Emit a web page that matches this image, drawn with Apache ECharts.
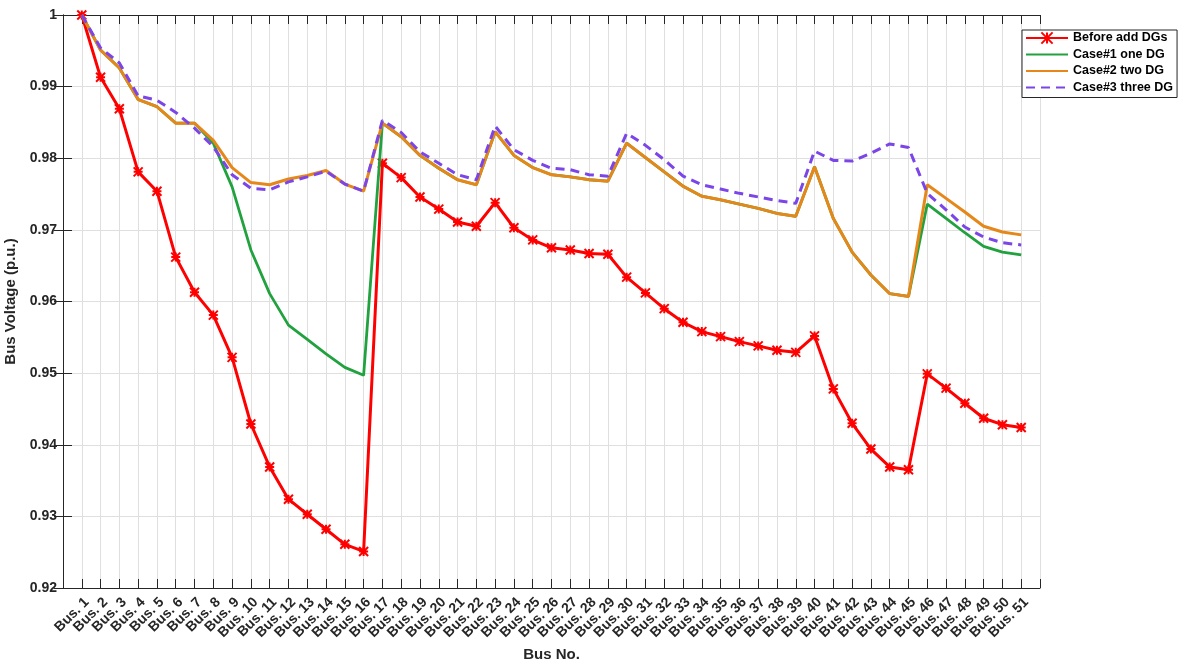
<!DOCTYPE html>
<html>
<head>
<meta charset="utf-8">
<script src="https://cdn.jsdelivr.net/npm/echarts@6/dist/echarts.min.js"></script>
<style>
  html, body { margin: 0; padding: 0; background: #ffffff; }
  #chart { width: 1182px; height: 659px; }
</style>
</head>
<body>
<div id="chart"></div>
<script>
// Bus numbers along the feeder
const busNo = [1, 2, 3, 4, 5, 6, 7, 8, 9, 10, 11, 12, 13, 14, 15, 16, 17, 18, 19, 20,
  21, 22, 23, 24, 25, 26, 27, 28, 29, 30, 31, 32, 33, 34, 35, 36, 37, 38, 39, 40,
  41, 42, 43, 44, 45, 46, 47, 48, 49, 50, 51];

// Bus voltage magnitudes (p.u.)
const beforeDG = [1.0000, 0.9913, 0.9869, 0.9781, 0.9754, 0.9662, 0.9613, 0.9581, 0.9522, 0.9429,
  0.9369, 0.9324, 0.9303, 0.9282, 0.9261, 0.9251, 0.9793, 0.9773, 0.9746, 0.9729,
  0.9711, 0.9705, 0.9738, 0.9703, 0.9686, 0.9675, 0.9672, 0.9667, 0.9666, 0.9634,
  0.9612, 0.9590, 0.9571, 0.9558, 0.9551, 0.9544, 0.9538, 0.9532, 0.9529, 0.9552,
  0.9478, 0.9430, 0.9394, 0.9369, 0.9365, 0.9499, 0.9479, 0.9458, 0.9437, 0.9428, 0.9424];

const case1OneDG = [1.0000, 0.9951, 0.9926, 0.9882, 0.9872, 0.9849, 0.9849, 0.9821, 0.9760, 0.9672,
  0.9611, 0.9567, 0.9547, 0.9527, 0.9508, 0.9497, 0.9849, 0.9830, 0.9804, 0.9786,
  0.9770, 0.9763, 0.9837, 0.9804, 0.9787, 0.9777, 0.9774, 0.9770, 0.9768, 0.9821,
  0.9801, 0.9781, 0.9761, 0.9747, 0.9742, 0.9736, 0.9730, 0.9723, 0.9719, 0.9788,
  0.9716, 0.9669, 0.9637, 0.9611, 0.9607, 0.9736, 0.9716, 0.9696, 0.9677, 0.9669, 0.9665];

const case2TwoDG = [1.0000, 0.9951, 0.9926, 0.9882, 0.9872, 0.9849, 0.9849, 0.9825, 0.9787, 0.9766,
  0.9763, 0.9771, 0.9776, 0.9783, 0.9764, 0.9754, 0.9849, 0.9830, 0.9804, 0.9786,
  0.9770, 0.9763, 0.9837, 0.9804, 0.9787, 0.9777, 0.9774, 0.9770, 0.9768, 0.9821,
  0.9801, 0.9781, 0.9761, 0.9747, 0.9742, 0.9736, 0.9730, 0.9723, 0.9719, 0.9788,
  0.9716, 0.9669, 0.9637, 0.9611, 0.9607, 0.9763, 0.9744, 0.9725, 0.9705, 0.9697, 0.9693];

const case3ThreeDG = [1.0000, 0.9954, 0.9933, 0.9887, 0.9881, 0.9864, 0.9842, 0.9816, 0.9777, 0.9758,
  0.9756, 0.9767, 0.9774, 0.9782, 0.9764, 0.9754, 0.9853, 0.9836, 0.9809, 0.9793,
  0.9777, 0.9770, 0.9845, 0.9812, 0.9797, 0.9786, 0.9784, 0.9777, 0.9775, 0.9835,
  0.9818, 0.9798, 0.9775, 0.9763, 0.9757, 0.9751, 0.9746, 0.9741, 0.9737, 0.9810,
  0.9797, 0.9796, 0.9807, 0.9820, 0.9815, 0.9751, 0.9728, 0.9704, 0.9690, 0.9682, 0.9679];

const seriesNames = ['Before add DGs', 'Case#1 one DG', 'Case#2 two DG', 'Case#3 three DG'];

const INK = '#262626';
const GRID = '#dfdfdf';
const FONT = '"Liberation Sans", Arial, Helvetica, sans-serif';

function pairs(values) {
  return values.map((v, i) => [busNo[i], v]);
}

// asterisk marker drawn as stroked path
const starMarker = 'path://M0,0L10,10M10,0L0,10M5,0L5,10M0,5L10,5';

const firstBus = busNo[0];
const lastBus = busNo[busNo.length - 1];

const chart = echarts.init(document.getElementById('chart'), null, { renderer: 'canvas' });

chart.setOption({
  animation: false,
  backgroundColor: '#ffffff',
  grid: { left: 63, right: 142, top: 15, bottom: 71, containLabel: false, outerBoundsMode: 'none' },
  legend: {
    data: [
      { name: seriesNames[0] },
      { name: seriesNames[1], itemStyle: { opacity: 0 } },
      { name: seriesNames[2], itemStyle: { opacity: 0 } },
      { name: seriesNames[3], itemStyle: { opacity: 0 } }
    ],
    orient: 'vertical',
    left: 1022,
    top: 30,
    padding: [1, 4, 3, 3],
    itemGap: 2.5,
    itemWidth: 42,
    itemHeight: 14,
    backgroundColor: '#ffffff',
    borderColor: INK,
    borderWidth: 1,
    textStyle: { fontFamily: FONT, fontWeight: 'bold', fontSize: 12.5, color: '#000000', lineHeight: 14 }
  },
  xAxis: [
    {
      type: 'value',
      min: 0,
      max: lastBus + 1,
      interval: 1,
      name: 'Bus No.',
      nameLocation: 'middle',
      nameGap: 54,
      nameTextStyle: { fontFamily: FONT, fontWeight: 'bold', fontSize: 15, color: INK },
      axisLine: { show: true, lineStyle: { color: INK, width: 1 } },
      axisTick: { show: true, inside: true, length: 9, lineStyle: { color: INK } },
      axisLabel: {
        rotate: 45,
        margin: 7,
        verticalAlign: 'top',
        showMinLabel: true,
        showMaxLabel: true,
        fontFamily: FONT, fontWeight: 'bold', fontSize: 14, color: INK,
        formatter: v => (v >= firstBus && v <= lastBus) ? 'Bus. ' + v : ''
      },
      splitLine: { show: true, lineStyle: { color: GRID, width: 1 } }
    },
    {
      type: 'value',
      position: 'top',
      min: 0,
      max: lastBus + 1,
      interval: 1,
      axisLine: { show: true, lineStyle: { color: INK, width: 1 } },
      axisTick: { show: true, inside: true, length: 9, lineStyle: { color: INK } },
      axisLabel: { show: false },
      splitLine: { show: false }
    }
  ],
  yAxis: [
    {
      type: 'value',
      min: 0.92,
      max: 1.0,
      interval: 0.01,
      name: 'Bus Voltage (p.u.)',
      nameLocation: 'middle',
      nameGap: 38,
      nameRotate: 90,
      nameTextStyle: { fontFamily: FONT, fontWeight: 'bold', fontSize: 15, color: INK },
      axisLine: { show: true, lineStyle: { color: INK, width: 1 } },
      axisTick: { show: true, inside: true, length: 9, lineStyle: { color: INK } },
      axisLabel: {
        margin: 6,
        fontFamily: FONT, fontWeight: 'bold', fontSize: 14, color: INK,
        formatter: v => String(+v.toFixed(2))
      },
      splitLine: { show: true, lineStyle: { color: GRID, width: 1 } }
    },
    {
      type: 'value',
      position: 'right',
      min: 0.92,
      max: 1.0,
      interval: 0.01,
      axisLine: { show: true, lineStyle: { color: INK, width: 1 } },
      axisTick: { show: true, inside: true, length: 9, lineStyle: { color: INK } },
      axisLabel: { show: false },
      splitLine: { show: false }
    }
  ],
  series: [
    {
      name: seriesNames[0],
      type: 'line',
      data: pairs(beforeDG),
      symbol: starMarker,
      symbolSize: 9,
      lineStyle: { color: '#ff0000', width: 3 },
      itemStyle: { color: '#ff0000', borderColor: '#ff0000', borderWidth: 2 },
      z: 2
    },
    {
      name: seriesNames[1],
      type: 'line',
      data: pairs(case1OneDG),
      symbol: 'none',
      lineStyle: { color: '#22a23f', width: 2.8 },
      itemStyle: { color: '#22a23f' },
      z: 3
    },
    {
      name: seriesNames[2],
      type: 'line',
      data: pairs(case2TwoDG),
      symbol: 'none',
      lineStyle: { color: '#e6871a', width: 3 },
      itemStyle: { color: '#e6871a' },
      z: 4
    },
    {
      name: seriesNames[3],
      type: 'line',
      data: pairs(case3ThreeDG),
      symbol: 'none',
      lineStyle: { color: '#7b45e8', width: 3, type: [9, 6] },
      itemStyle: { color: '#7b45e8' },
      z: 5
    }
  ]
});
</script>
</body>
</html>
